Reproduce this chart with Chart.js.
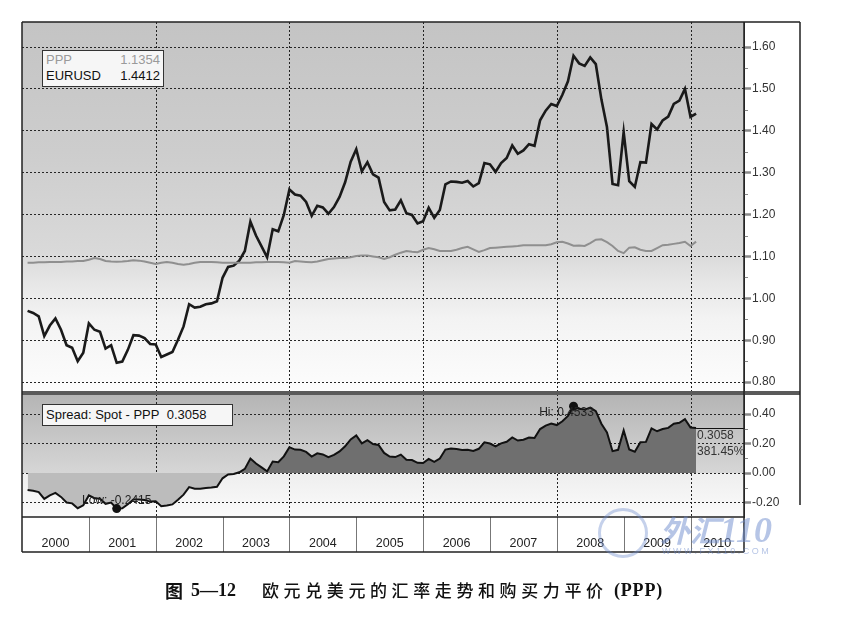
<!DOCTYPE html>
<html><head><meta charset="utf-8">
<script src="https://cdn.jsdelivr.net/npm/chart.js@4.4.1/dist/chart.umd.min.js"></script>
<style>
html,body{margin:0;padding:0;background:#fff;}
#wrap{position:relative;width:857px;height:630px;overflow:hidden;}
canvas{position:absolute;left:0;top:0;}
.box{position:absolute;background:#f6f6f6;border:1px solid #333;font-family:"Liberation Sans",Arial,sans-serif;font-size:13px;line-height:16px;box-sizing:border-box;padding:1px 3px 0 3px;}
.row{display:flex;justify-content:space-between;}
.cap{position:absolute;top:579px;font-size:17px;line-height:22px;color:#111;white-space:nowrap;}
.cjk{font-family:"Noto Sans CJK SC",sans-serif;}
.num{font-family:"Liberation Serif",serif;font-weight:bold;font-size:18px;}
#wm{position:absolute;left:590px;top:508px;color:rgba(110,140,205,0.5);pointer-events:none;}
</style></head><body>
<div id="wrap">
<canvas id="c" width="857" height="630"></canvas>
<div class="box" style="left:42px;top:50px;width:122px;height:37px;">
  <div class="row" style="color:#9a9a9a"><span>PPP</span><span id="pppv"></span></div>
  <div class="row" style="color:#111"><span>EURUSD</span><span id="eurv"></span></div>
</div>
<div class="box" style="left:42px;top:404px;width:191px;height:22px;padding-top:2px;color:#111"><span id="sprl"></span></div>
<div id="wm">
  <div style="position:absolute;left:8px;top:0px;width:50px;height:50px;border-radius:50%;border:3px solid rgba(110,140,205,0.4);box-sizing:border-box;"></div>
  <div style="position:absolute;left:70px;top:4px;font-family:'Noto Sans CJK SC',sans-serif;font-weight:bold;font-style:italic;font-size:30px;line-height:34px;white-space:nowrap;">外汇<span style="font-family:'Liberation Serif',serif;font-size:36px;">110</span></div>
  <div style="position:absolute;left:72px;top:38px;font-family:'Liberation Sans',sans-serif;font-size:9px;letter-spacing:2.5px;white-space:nowrap;">WWW.FX110.COM</div>
</div>
<div class="cap cjk" style="left:165px;font-size:18px;font-weight:bold;">图</div>
<div class="cap num" style="left:191px;">5—12</div>
<div class="cap cjk" style="left:262px;letter-spacing:4.6px;font-weight:500;">欧元兑美元的汇率走势和购买力平价</div>
<div class="cap num" style="left:614px;letter-spacing:0.8px;">(PPP)</div>
</div>
<script>
// ---- data (monthly closes, Jan 2000 .. Jan 2010) ----
const years = ['2000','2001','2002','2003','2004','2005','2006','2007','2008','2009','2010'];
const startYear = 2000;
const eurusd = [0.970,0.965,0.957,0.910,0.935,0.952,0.925,0.888,0.882,0.850,0.870,0.940,
0.925,0.920,0.880,0.888,0.846,0.849,0.877,0.912,0.911,0.905,0.891,0.890,
0.860,0.866,0.872,0.901,0.933,0.986,0.978,0.980,0.986,0.988,0.993,1.049,
1.075,1.078,1.090,1.113,1.183,1.150,1.124,1.098,1.165,1.160,1.199,1.260,
1.248,1.245,1.230,1.197,1.221,1.217,1.202,1.218,1.242,1.277,1.326,1.356,
1.303,1.325,1.296,1.288,1.230,1.210,1.212,1.234,1.203,1.199,1.179,1.184,
1.216,1.192,1.211,1.272,1.279,1.278,1.276,1.280,1.267,1.275,1.323,1.320,
1.302,1.323,1.335,1.365,1.345,1.353,1.368,1.364,1.425,1.448,1.464,1.459,
1.486,1.518,1.579,1.561,1.555,1.575,1.559,1.475,1.409,1.273,1.270,1.397,
1.280,1.266,1.325,1.324,1.416,1.403,1.425,1.434,1.464,1.472,1.500,1.433,
1.4412];
const ppp = [1.085,1.085,1.086,1.086,1.087,1.087,1.087,1.088,1.088,1.089,1.089,1.092,
1.096,1.094,1.089,1.088,1.0875,1.088,1.089,1.091,1.090,1.088,1.085,1.082,
1.085,1.087,1.085,1.082,1.080,1.082,1.085,1.087,1.087,1.087,1.086,1.085,
1.085,1.085,1.085,1.085,1.085,1.086,1.086,1.087,1.087,1.087,1.086,1.085,
1.089,1.088,1.087,1.086,1.088,1.091,1.094,1.095,1.096,1.096,1.098,1.101,
1.102,1.102,1.100,1.098,1.094,1.098,1.104,1.109,1.113,1.111,1.110,1.116,
1.120,1.117,1.113,1.113,1.113,1.116,1.120,1.123,1.117,1.111,1.115,1.120,
1.121,1.122,1.123,1.124,1.125,1.127,1.127,1.127,1.127,1.127,1.129,1.134,
1.135,1.131,1.1257,1.126,1.125,1.132,1.140,1.141,1.134,1.125,1.113,1.108,
1.121,1.122,1.116,1.113,1.113,1.120,1.127,1.128,1.130,1.132,1.135,1.125,
1.1354];
const spread = [-0.115,-0.120,-0.129,-0.176,-0.152,-0.135,-0.162,-0.200,-0.206,-0.239,-0.219,-0.152,
-0.171,-0.174,-0.209,-0.200,-0.2415,-0.239,-0.212,-0.179,-0.179,-0.183,-0.194,-0.192,
-0.225,-0.221,-0.213,-0.181,-0.147,-0.096,-0.107,-0.107,-0.101,-0.099,-0.093,-0.036,
-0.010,-0.007,0.005,0.028,0.098,0.064,0.038,0.011,0.078,0.073,0.113,0.175,
0.159,0.157,0.143,0.111,0.133,0.126,0.108,0.123,0.146,0.181,0.228,0.255,
0.201,0.223,0.196,0.190,0.136,0.112,0.108,0.125,0.090,0.088,0.069,0.068,
0.096,0.075,0.098,0.159,0.166,0.162,0.156,0.157,0.150,0.164,0.208,0.200,
0.181,0.201,0.212,0.241,0.220,0.226,0.241,0.237,0.298,0.321,0.335,0.325,
0.351,0.387,0.4533,0.435,0.430,0.443,0.419,0.334,0.275,0.148,0.157,0.289,
0.159,0.144,0.209,0.211,0.303,0.283,0.298,0.306,0.334,0.340,0.365,0.308,
0.3058];
const topTicks = [0.80,0.90,1.00,1.10,1.20,1.30,1.40,1.50,1.60];
const topMinorTicks = [0.85,0.95,1.05,1.15,1.25,1.35,1.45,1.55];
const botTicks = [-0.20,0.00,0.20,0.40];
const botMinorTicks = [-0.10,0.10,0.30];
const gridYears = [2002,2004,2006,2008,2010];
const changeText = '381.45%';

// ---- derived structures for the library ----
const monthEnd = i => startYear + (i + 1) / 12;
const toPts = arr => arr.map((v, i) => ({x: monthEnd(i), y: v}));
const iMin = spread.indexOf(Math.min(...spread));
const iMax = spread.indexOf(Math.max(...spread));
const last = spread.length - 1;
const X_MIN = 2000, X_MAX = 2010.8;

document.getElementById('pppv').textContent = ppp[last].toFixed(4);
document.getElementById('eurv').textContent = eurusd[last].toFixed(4);
document.getElementById('sprl').innerHTML = 'Spread: Spot - PPP&nbsp;&nbsp;' + spread[last].toFixed(4);

const FONT = '"Liberation Sans", Arial, sans-serif';

const bgPlugin = {
  id: 'bg',
  beforeDraw(chart) {
    const {ctx, chartArea: ca, scales: {yTop, yBot}} = chart;
    ctx.save();
    ctx.fillStyle = '#fff';
    ctx.fillRect(0, 0, chart.width, chart.height);
    const w = ca.right - ca.left;
    let g = ctx.createLinearGradient(0, yTop.top, 0, yTop.bottom);
    g.addColorStop(0, '#c4c4c4');
    g.addColorStop(0.35, '#cdcdcd');
    g.addColorStop(0.62, '#d9d9d9');
    g.addColorStop(0.70, '#e6e6e6');
    g.addColorStop(0.80, '#f3f3f3');
    g.addColorStop(1, '#fdfdfd');
    ctx.fillStyle = g;
    ctx.fillRect(ca.left, yTop.top, w, yTop.bottom - yTop.top);
    const z = yBot.getPixelForValue(0);
    g = ctx.createLinearGradient(0, yBot.top, 0, z);
    g.addColorStop(0, '#b4b4b4');
    g.addColorStop(1, '#d6d6d6');
    ctx.fillStyle = g;
    ctx.fillRect(ca.left, yBot.top, w, z - yBot.top);
    g = ctx.createLinearGradient(0, z, 0, yBot.bottom);
    g.addColorStop(0, '#eeeeee');
    g.addColorStop(1, '#fbfbfb');
    ctx.fillStyle = g;
    ctx.fillRect(ca.left, z, w, yBot.bottom - z);
    ctx.restore();
  },
  beforeDatasetsDraw(chart) {
    const {ctx, chartArea: ca, scales: {x}} = chart;
    ctx.save();
    ctx.strokeStyle = '#222';
    ctx.lineWidth = 1;
    ctx.setLineDash([2, 2]);
    gridYears.forEach(yv => {
      const px = Math.round(x.getPixelForValue(yv)) + 0.5;
      ctx.beginPath(); ctx.moveTo(px, ca.top); ctx.lineTo(px, ca.bottom); ctx.stroke();
    });
    ctx.restore();
  },
  afterDatasetsDraw(chart) {
    const {ctx, chartArea: ca, scales: {x, yBot}} = chart;
    ctx.save();
    const lx = x.getPixelForValue(monthEnd(last));
    const ly = yBot.getPixelForValue(spread[last]);
    ctx.strokeStyle = '#111'; ctx.lineWidth = 1;
    ctx.beginPath(); ctx.moveTo(lx, Math.round(ly) + 0.5); ctx.lineTo(ca.right, Math.round(ly) + 0.5); ctx.stroke();
    ctx.font = '12px ' + FONT;
    ctx.fillStyle = '#333';
    ctx.textBaseline = 'middle';
    ctx.textAlign = 'left';
    ctx.fillText(spread[last].toFixed(4), lx + 1, ly + 8);
    ctx.fillText(changeText, lx + 1, ly + 24);
    const loX = x.getPixelForValue(monthEnd(iMin)), loY = yBot.getPixelForValue(spread[iMin]);
    const hiX = x.getPixelForValue(monthEnd(iMax)), hiY = yBot.getPixelForValue(spread[iMax]);
    ctx.textAlign = 'center';
    ctx.fillStyle = '#222';
    ctx.fillText('Low: ' + spread[iMin].toFixed(4), loX, loY - 8);
    ctx.fillText('Hi: ' + spread[iMax].toFixed(4), hiX - 7, hiY + 7);
    ctx.restore();
  },
  afterDraw(chart) {
    const {ctx, chartArea: ca, scales: {x, yTop, yBot}} = chart;
    const R = yTop.right;
    const B = x.bottom;
    ctx.save();
    ctx.fillStyle = '#5a5a5a';
    ctx.fillRect(ca.left, yTop.bottom - 2, R - ca.left, 4);
    ctx.strokeStyle = '#777'; ctx.lineWidth = 1;
    for (let yv = 2001; yv <= 2010; yv++) {
      const px = Math.round(x.getPixelForValue(yv)) + 0.5;
      ctx.beginPath(); ctx.moveTo(px, ca.bottom); ctx.lineTo(px, B); ctx.stroke();
    }
    ctx.strokeStyle = '#888'; ctx.lineWidth = 1;
    topMinorTicks.forEach(v => {
      const py = Math.round(yTop.getPixelForValue(v)) + 0.5;
      ctx.beginPath(); ctx.moveTo(ca.right, py); ctx.lineTo(ca.right + 4, py); ctx.stroke();
    });
    botMinorTicks.forEach(v => {
      const py = Math.round(yBot.getPixelForValue(v)) + 0.5;
      ctx.beginPath(); ctx.moveTo(ca.right, py); ctx.lineTo(ca.right + 4, py); ctx.stroke();
    });
    ctx.strokeStyle = '#222'; ctx.lineWidth = 1.5;
    ctx.beginPath();
    ctx.moveTo(ca.left, ca.top); ctx.lineTo(R, ca.top);
    ctx.moveTo(ca.left, ca.top); ctx.lineTo(ca.left, B);
    ctx.moveTo(ca.left, B); ctx.lineTo(ca.right, B);
    ctx.moveTo(R, ca.top); ctx.lineTo(R, ca.bottom - 12);
    ctx.moveTo(ca.left, ca.bottom); ctx.lineTo(ca.right, ca.bottom);
    ctx.moveTo(ca.right, ca.top); ctx.lineTo(ca.right, B);
    ctx.stroke();
    ctx.restore();
  }
};

const yearTicks = years.map((y, k) => {
  const lo = Math.max(startYear + k, X_MIN), hi = Math.min(startYear + k + 1, X_MAX);
  return {value: (lo + hi) / 2};
});

new Chart(document.getElementById('c'), {
  type: 'line',
  data: {
    datasets: [
      {label: 'Spread', data: toPts(spread), yAxisID: 'yBot', borderColor: '#111', borderWidth: 2,
       fill: {target: {value: 0}, above: '#6f6f6f', below: '#bcbcbc'},
       pointRadius: c => (c.dataIndex === iMin || c.dataIndex === iMax) ? 4.5 : 0,
       pointBackgroundColor: '#111', pointBorderWidth: 0, tension: 0},
      {label: 'PPP', data: toPts(ppp), yAxisID: 'yTop', borderColor: '#8f8f8f', borderWidth: 2,
       pointRadius: 0, fill: false, tension: 0},
      {label: 'EURUSD', data: toPts(eurusd), yAxisID: 'yTop', borderColor: '#1a1a1a', borderWidth: 2.6,
       pointRadius: 0, fill: false, tension: 0}
    ]
  },
  options: {
    responsive: false,
    animation: false,
    events: [],
    layout: {padding: {left: 22, top: 22, right: 57, bottom: 78}},
    plugins: {legend: {display: false}, tooltip: {enabled: false}, title: {display: false}},
    scales: {
      x: {
        type: 'linear', position: 'bottom', min: X_MIN, max: X_MAX,
        grid: {display: false, drawTicks: false},
        border: {display: false},
        afterBuildTicks: s => { s.ticks = yearTicks.map(t => ({value: t.value})); },
        afterFit: s => { s.height = 35; },
        ticks: {autoSkip: false, maxRotation: 0, padding: 19, color: '#222',
                font: {family: FONT, size: 12.5},
                callback: (v, i) => years[i]}
      },
      yTop: {
        type: 'linear', position: 'right', stack: 'panels', stackWeight: 371,
        min: 0.774, max: 1.6597,
        afterBuildTicks: s => { s.ticks = topTicks.map(v => ({value: v})); },
        afterFit: s => { s.width = 56; },
        grid: {color: '#262626', lineWidth: 1, drawTicks: true, tickLength: 7, tickColor: '#8a8a8a', tickWidth: 2.5},
        border: {display: true, color: '#333', width: 1, dash: [2, 2]},
        ticks: {color: '#333', padding: 1, font: {family: FONT, size: 12}, callback: v => v.toFixed(2)}
      },
      yBot: {
        type: 'linear', position: 'right', stack: 'panels', stackWeight: 124,
        min: -0.2983, max: 0.5424,
        afterBuildTicks: s => { s.ticks = botTicks.map(v => ({value: v})); },
        afterFit: s => { s.width = 56; },
        grid: {color: '#262626', lineWidth: 1, drawTicks: true, tickLength: 7, tickColor: '#8a8a8a', tickWidth: 2.5},
        border: {display: true, color: '#333', width: 1, dash: [2, 2]},
        ticks: {color: '#333', padding: 1, font: {family: FONT, size: 12}, callback: v => v.toFixed(2)}
      }
    }
  },
  plugins: [bgPlugin]
});
</script>
</body></html>
